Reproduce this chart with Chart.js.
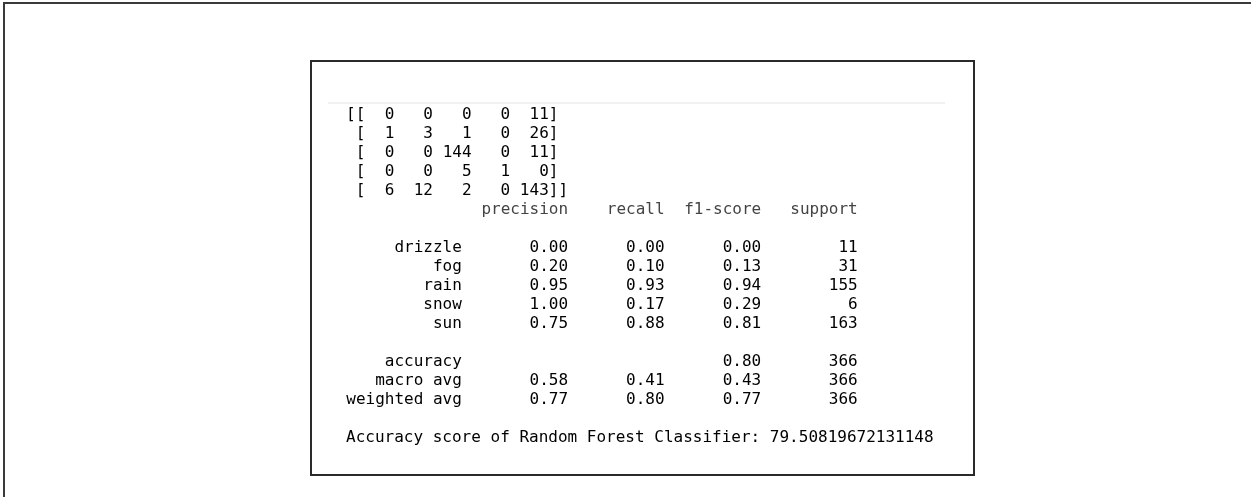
<!DOCTYPE html>
<html>
<head>
<meta charset="utf-8">
<script src="https://cdn.jsdelivr.net/npm/chart.js@4.4.1/dist/chart.umd.min.js"></script>
<style>
  html, body { margin: 0; padding: 0; background: #fff; width: 1251px; height: 497px; overflow: hidden; }
  #frame { position: absolute; left: 3px; top: 2px; right: 0; bottom: 0;
           border-top: 2px solid #3a3a3a; border-left: 2px solid #3a3a3a; }
  #box   { position: absolute; left: 310px; top: 60px; width: 665px; height: 416px;
           box-sizing: border-box; border: 2px solid #2a2a2a; }
  #rule  { position: absolute; left: 328px; top: 102px; width: 617px; height: 2px; background: #f1f1f1; }
  #wrap  { position: absolute; left: 346px; top: 103px; width: 589px; height: 343px; }
</style>
</head>
<body>
<div id="frame"></div>
<div id="box"></div>
<div id="rule"></div>
<div id="wrap"><canvas id="report"></canvas></div>

<script>
/* ── Data ── */
const CONFUSION = [
  [0, 0, 0, 0, 11],
  [1, 3, 1, 0, 26],
  [0, 0, 144, 0, 11],
  [0, 0, 5, 1, 0],
  [6, 12, 2, 0, 143]
];
const HEADERS   = ['precision', 'recall', 'f1-score', 'support'];
const CLASSES   = ['drizzle', 'fog', 'rain', 'snow', 'sun'];
const PRECISION = [0.00, 0.20, 0.95, 1.00, 0.75];
const RECALL    = [0.00, 0.10, 0.93, 0.17, 0.88];
const F1        = [0.00, 0.13, 0.94, 0.29, 0.81];
const SUPPORT   = [11, 31, 155, 6, 163];

const AVG_LABELS    = ['accuracy', 'macro avg', 'weighted avg'];
const AVG_PRECISION = [null, 0.58, 0.77];
const AVG_RECALL    = [null, 0.41, 0.80];
const AVG_F1        = [0.80, 0.43, 0.77];
const AVG_SUPPORT   = [366, 366, 366];

const MODEL_NAME     = 'Random Forest Classifier';
const ACCURACY_SCORE = 79.50819672131148;

/* ── Layout (text columns / lines) ── */
const COLS      = 61;
const MAT_END   = [5, 9, 13, 17, 21];   // right edge of each matrix cell
const REP_LABEL = 12;                   // right edge of the row label
const REP_END   = [23, 33, 43, 53];     // right edge of each report column
const ROW_HEAD  = 5, ROW_CLS = 7, ROW_AVG = 13, ROW_SCORE = 17;

const FONT = '16px "DejaVu Sans Mono", monospace';
const INK  = '#000';
const SOFT = '#444';

// anchor points so every cell sits on the chart's own scales
const anchors = [];
CONFUSION.forEach((r, i) => r.forEach((_, j) => anchors.push({ x: MAT_END[j], y: i })));
CLASSES.forEach((_, i) => REP_END.forEach(c => anchors.push({ x: c, y: ROW_CLS + i })));
AVG_LABELS.forEach((_, i) => REP_END.forEach(c => anchors.push({ x: c, y: ROW_AVG + i })));

const fmt = v => (v === null ? '' : v.toFixed(2));

/* ── Text plugin ── */
const reportText = {
  id: 'reportText',
  afterDatasetsDraw(chart) {
    const { ctx, scales: { x, y } } = chart;
    const put = (str, col, row, align, color) => {
      ctx.fillStyle = color || INK;
      ctx.textAlign = align;
      ctx.fillText(str, x.getPixelForValue(col), y.getPixelForValue(row) + 6);
    };
    ctx.save();
    ctx.font = FONT;
    ctx.textBaseline = 'alphabetic';

    // confusion matrix
    CONFUSION.forEach((r, i) => {
      put(i === 0 ? '[[' : ' [', 0, i, 'left');
      r.forEach((v, j) => put(String(v), MAT_END[j], i, 'right'));
      put(i === CONFUSION.length - 1 ? ']]' : ']', MAT_END[MAT_END.length - 1], i, 'left');
    });

    // header
    HEADERS.forEach((h, k) => put(h, REP_END[k], ROW_HEAD, 'right', SOFT));

    // per-class rows
    CLASSES.forEach((c, i) => {
      const row = ROW_CLS + i;
      put(c, REP_LABEL, row, 'right');
      put(fmt(PRECISION[i]), REP_END[0], row, 'right');
      put(fmt(RECALL[i]), REP_END[1], row, 'right');
      put(fmt(F1[i]), REP_END[2], row, 'right');
      put(String(SUPPORT[i]), REP_END[3], row, 'right');
    });

    // averages
    AVG_LABELS.forEach((l, i) => {
      const row = ROW_AVG + i;
      put(l, REP_LABEL, row, 'right');
      put(fmt(AVG_PRECISION[i]), REP_END[0], row, 'right');
      put(fmt(AVG_RECALL[i]), REP_END[1], row, 'right');
      put(fmt(AVG_F1[i]), REP_END[2], row, 'right');
      put(String(AVG_SUPPORT[i]), REP_END[3], row, 'right');
    });

    put(`Accuracy score of ${MODEL_NAME}: ${ACCURACY_SCORE}`, 0, ROW_SCORE, 'left');
    ctx.restore();
  }
};

/* ── Chart ── */
new Chart(document.getElementById('report'), {
  type: 'scatter',
  data: { datasets: [{ data: anchors, pointRadius: 0, pointHoverRadius: 0 }] },
  options: {
    responsive: true, maintainAspectRatio: false, animation: false, events: [],
    layout: { padding: 0 },
    plugins: { legend: { display: false }, tooltip: { enabled: false } },
    scales: {
      x: { type: 'linear', min: 0, max: COLS, display: false },
      y: { type: 'linear', min: -0.5, max: ROW_SCORE + 0.5, reverse: true, display: false }
    }
  },
  plugins: [reportText]
});
</script>
</body>
</html>
